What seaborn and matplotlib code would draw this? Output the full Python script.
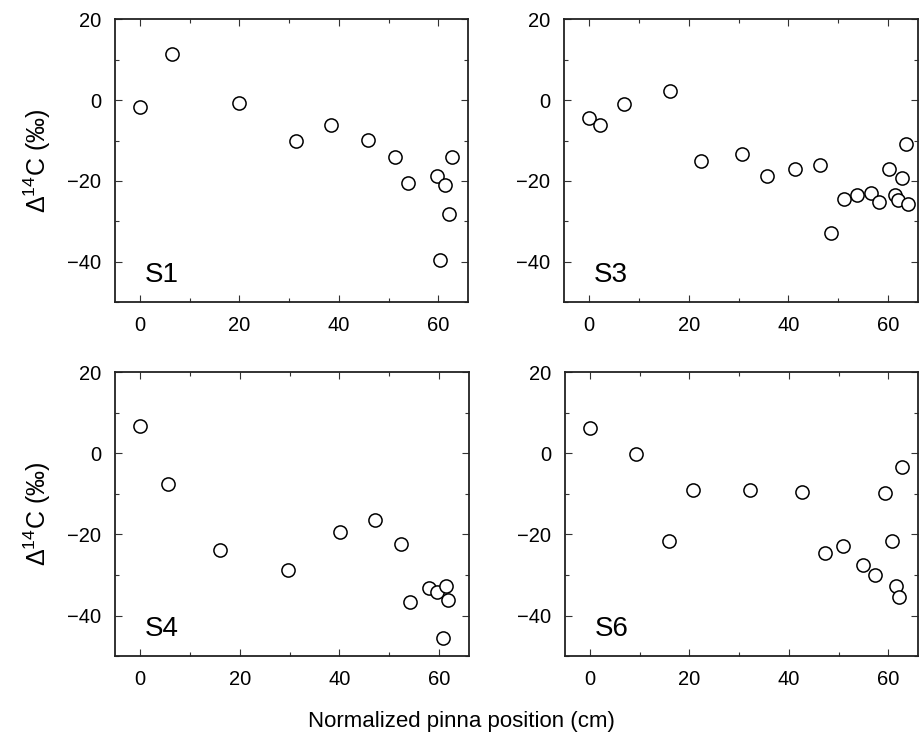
import numpy as np
import pandas as pd
import seaborn as sns
import matplotlib.pyplot as plt
from matplotlib.ticker import MultipleLocator

# data
s1_x = [0, 6.4, 19.9, 31.3, 38.4, 45.8, 51.2, 53.9, 59.8, 61.4, 62.8, 62.1, 60.4]
s1_y = [-1.7, 11.4, -0.6, -10.2, -6.1, -9.8, -14.1, -20.6, -18.7, -21.1, -14.2, -28.2, -39.7]

s3_x = [0, 2.2, 7.1, 16.3, 22.5, 30.7, 35.6, 41.4, 46.3, 48.5, 51.1, 53.8, 56.5, 58.1,
        60.1, 61.3, 62.0, 62.7, 63.5, 63.9]
s3_y = [-4.4, -6.2, -1.0, 2.3, -15.0, -13.4, -18.8, -17.0, -16.1, -33.0, -24.4, -23.6,
        -23.0, -25.3, -17.1, -23.4, -24.8, -19.3, -10.8, -25.8]

s4_x = [0, 5.6, 16.1, 29.7, 40.2, 47.2, 52.3, 54.2, 58.0, 59.6, 61.4, 61.7, 60.7]
s4_y = [6.6, -7.7, -23.8, -28.8, -19.4, -16.4, -22.3, -36.7, -33.2, -34.1, -32.7, -36.2, -45.6]

s6_x = [0.1, 9.2, 15.9, 20.7, 32.3, 42.6, 47.2, 50.9, 55.0, 57.4, 59.4, 60.8, 61.5, 62.1, 62.8]
s6_y = [6.1, -0.3, -21.6, -9.1, -9.0, -9.5, -24.6, -22.8, -27.6, -30.0, -9.7, -21.6,
        -32.7, -35.4, -3.4]

panels = ['S1', 'S3', 'S4', 'S6']
xs = [s1_x, s3_x, s4_x, s6_x]
ys = [s1_y, s3_y, s4_y, s6_y]

sns.set_style('ticks')
plt.rcParams['font.family'] = ['Liberation Sans', 'DejaVu Sans']
plt.rcParams['mathtext.fontset'] = 'custom'
plt.rcParams['mathtext.rm'] = 'Liberation Sans'
plt.rcParams['mathtext.it'] = 'Liberation Sans:italic'
plt.rcParams['text.color'] = 'black'
plt.rcParams['axes.labelcolor'] = 'black'

fig = plt.figure(figsize=(9.2, 7.44), dpi=100)
rects = [[0.125, 0.594, 0.384, 0.380],
         [0.613, 0.594, 0.385, 0.380],
         [0.125, 0.118, 0.385, 0.382],
         [0.614, 0.118, 0.384, 0.382]]

for i in range(4):
    ax = fig.add_axes(rects[i])
    df = pd.DataFrame({'x': xs[i], 'y': ys[i]})
    sns.scatterplot(data=df, x='x', y='y', ax=ax, s=90, facecolor='white',
                    edgecolor='black', linewidth=1.1, zorder=3)
    ax.set_xlim(-5, 66)
    ax.set_ylim(-50, 20)
    ax.xaxis.set_major_locator(MultipleLocator(20))
    ax.xaxis.set_minor_locator(MultipleLocator(10))
    ax.yaxis.set_major_locator(MultipleLocator(20))
    ax.yaxis.set_minor_locator(MultipleLocator(10))
    ax.tick_params(which='both', direction='in', top=True, right=True, labelsize=14.5,
                   width=0.8, colors='#333333', labelcolor='black')
    ax.tick_params(which='major', length=5, pad=10)
    ax.tick_params(which='minor', length=3)
    ax.set_yticklabels([str(int(v)).replace('-', '\u2212') for v in ax.get_yticks()])
    for sp in ax.spines.values():
        sp.set_linewidth(1.3)
        sp.set_color('#222222')
    ax.set_xlabel('')
    if i % 2 == 0:
        ax.set_ylabel(r'$\Delta^{14}$C (‰)', fontsize=18, labelpad=10)
    else:
        ax.set_ylabel('')
    ax.text(0.085, 0.07, panels[i], transform=ax.transAxes, fontsize=20, va='baseline')

fig.text(0.502, 0.03, 'Normalized pinna position (cm)', ha='center', va='center', fontsize=16)
plt.savefig('out.png', dpi=100)
